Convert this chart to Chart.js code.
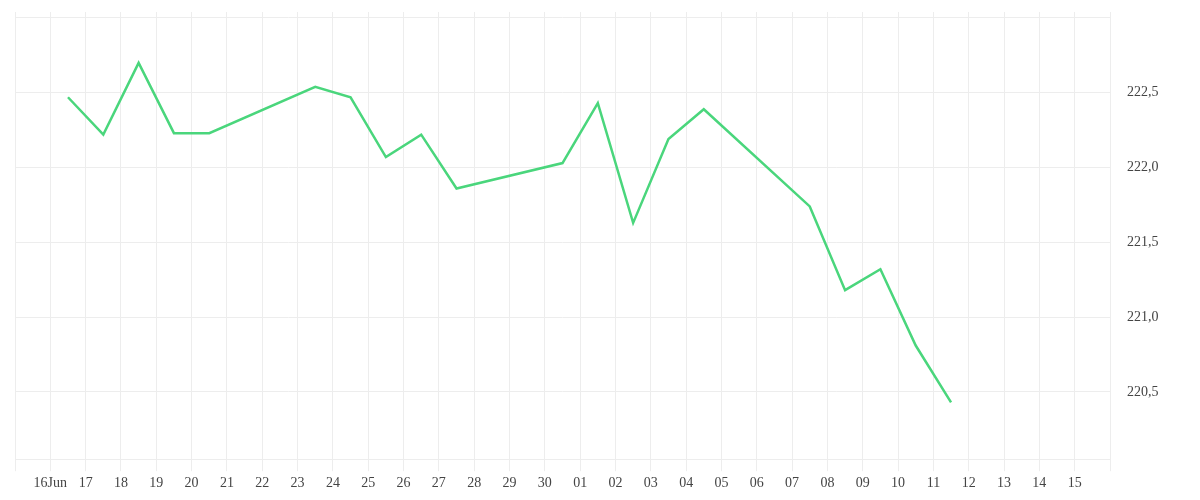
<!DOCTYPE html>
<html>
<head>
<meta charset="utf-8">
<script src="https://cdn.jsdelivr.net/npm/chart.js@4.4.1/dist/chart.umd.min.js"></script>
<style>
  html, body { margin: 0; padding: 0; background: #fff; }
  #wrap { width: 1200px; height: 500px; }
</style>
</head>
<body>
<div id="wrap"><canvas id="grafico" width="1200" height="500"></canvas></div>
<script>
// dados
const startDate = '2025-06-15';
const dates = [
  '2025-06-16', '2025-06-17', '2025-06-18', '2025-06-19', '2025-06-20',
  '2025-06-23', '2025-06-24', '2025-06-25', '2025-06-26', '2025-06-27',
  '2025-06-30', '2025-07-01', '2025-07-02', '2025-07-03', '2025-07-04',
  '2025-07-07', '2025-07-08', '2025-07-09', '2025-07-10', '2025-07-11'
];
const values = [
  222.47, 222.22, 222.70, 222.23, 222.23,
  222.54, 222.47, 222.07, 222.22, 221.86,
  222.03, 222.43, 221.63, 222.19, 222.39,
  221.74, 221.18, 221.32, 220.81, 220.43
];
const xTickLabels = [
  '', '16Jun', '17', '18', '19', '20', '21', '22', '23', '24', '25', '26', '27', '28', '29', '30',
  '01', '02', '03', '04', '05', '06', '07', '08', '09', '10', '11', '12', '13', '14', '15', ''
];
const yTickLabels = ['220,5', '221,0', '221,5', '222,0', '222,5'];

const DAY = 86400000;
const pontos = dates.map((d, i) => ({
  x: (Date.parse(d) - Date.parse(startDate)) / DAY + 0.5,
  y: values[i]
}));

const gridColor = '#ededed';
const fonte = { family: '"Liberation Serif", "DejaVu Serif", serif', size: 14 };

const ctx = document.getElementById('grafico').getContext('2d');
new Chart(ctx, {
  type: 'line',
  data: {
    datasets: [{
      data: pontos,
      borderColor: '#4ad67c',
      borderWidth: 2.5,
      pointRadius: 0,
      tension: 0,
      fill: false
    }]
  },
  options: {
    responsive: false,
    animation: false,
    layout: { padding: { left: 15, top: 12, right: 0, bottom: 4 } },
    plugins: { legend: { display: false }, tooltip: { enabled: false } },
    scales: {
      x: {
        type: 'linear',
        min: 0,
        max: xTickLabels.length - 1,
        afterFit: s => { s.paddingLeft = 0; s.paddingRight = 0; },
        grid: { color: gridColor, tickLength: 12, tickColor: gridColor },
        border: { color: gridColor },
        ticks: {
          stepSize: 1,
          autoSkip: false,
          maxRotation: 0,
          padding: 4,
          color: '#444',
          font: fonte,
          callback: v => xTickLabels[v] ?? ''
        }
      },
      y: {
        position: 'right',
        min: 220.05,
        max: 223.04,
        afterFit: s => { s.width = 90; s.paddingTop = 0; s.paddingBottom = 0; },
        grid: { color: gridColor, drawTicks: false },
        border: { color: gridColor },
        ticks: {
          stepSize: 0.5,
          includeBounds: false,
          padding: 17,
          color: '#444',
          font: fonte,
          callback: v => {
            const txt = v.toFixed(1).replace('.', ',');
            return yTickLabels.includes(txt) ? txt : '';
          }
        }
      }
    }
  }
});
</script>
</body>
</html>
